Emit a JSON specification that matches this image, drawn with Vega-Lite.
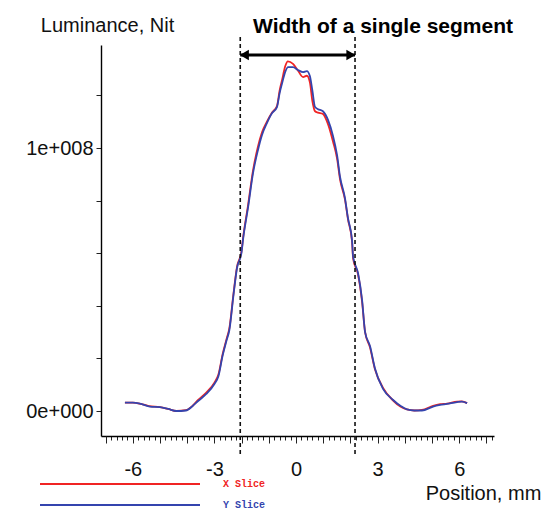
{
  "$schema": "https://vega.github.io/schema/vega-lite/v6.json",
  "width": 393,
  "height": 391,
  "autosize": {"type": "none"},
  "padding": {"left": 101, "top": 45, "right": 53, "bottom": 78},
  "background": "white",
  "config": {
    "view": {"stroke": null},
    "font": "Liberation Sans",
    "axis": {"grid": false, "domainColor": "#000", "domainWidth": 1.4, "tickColor": "#222", "labelColor": "#111", "titleColor": "#111"}
  },
  "datasets": {
    "curves": [
      {"series": "X Slice", "pos": -6.29, "lum": 3.2},
      {"series": "X Slice", "pos": -6.0, "lum": 3.2},
      {"series": "X Slice", "pos": -5.7, "lum": 2.7},
      {"series": "X Slice", "pos": -5.4, "lum": 1.9},
      {"series": "X Slice", "pos": -5.0, "lum": 1.5},
      {"series": "X Slice", "pos": -4.7, "lum": 0.8},
      {"series": "X Slice", "pos": -4.4, "lum": 0.0},
      {"series": "X Slice", "pos": -4.05, "lum": 0.3},
      {"series": "X Slice", "pos": -3.8, "lum": 2.0},
      {"series": "X Slice", "pos": -3.6, "lum": 4.2},
      {"series": "X Slice", "pos": -3.3, "lum": 7.0},
      {"series": "X Slice", "pos": -3.0, "lum": 10.8},
      {"series": "X Slice", "pos": -2.85, "lum": 14.0},
      {"series": "X Slice", "pos": -2.7, "lum": 21.5},
      {"series": "X Slice", "pos": -2.55, "lum": 27.5},
      {"series": "X Slice", "pos": -2.45, "lum": 31.5},
      {"series": "X Slice", "pos": -2.3, "lum": 44.5},
      {"series": "X Slice", "pos": -2.17, "lum": 54.8},
      {"series": "X Slice", "pos": -2.0, "lum": 61.0},
      {"series": "X Slice", "pos": -1.95, "lum": 65.5},
      {"series": "X Slice", "pos": -1.76, "lum": 78.5},
      {"series": "X Slice", "pos": -1.58, "lum": 91.5},
      {"series": "X Slice", "pos": -1.4, "lum": 100.5},
      {"series": "X Slice", "pos": -1.25, "lum": 106.0},
      {"series": "X Slice", "pos": -1.07, "lum": 110.0},
      {"series": "X Slice", "pos": -0.88, "lum": 113.5},
      {"series": "X Slice", "pos": -0.7, "lum": 116.0},
      {"series": "X Slice", "pos": -0.6, "lum": 122.0},
      {"series": "X Slice", "pos": -0.51, "lum": 126.0},
      {"series": "X Slice", "pos": -0.4, "lum": 131.0},
      {"series": "X Slice", "pos": -0.3, "lum": 133.0},
      {"series": "X Slice", "pos": -0.11, "lum": 132.0},
      {"series": "X Slice", "pos": 0.07, "lum": 129.5},
      {"series": "X Slice", "pos": 0.26, "lum": 127.0},
      {"series": "X Slice", "pos": 0.4, "lum": 127.5},
      {"series": "X Slice", "pos": 0.51, "lum": 125.0},
      {"series": "X Slice", "pos": 0.6, "lum": 118.0},
      {"series": "X Slice", "pos": 0.7, "lum": 114.0},
      {"series": "X Slice", "pos": 0.81, "lum": 113.5},
      {"series": "X Slice", "pos": 0.99, "lum": 113.0},
      {"series": "X Slice", "pos": 1.18, "lum": 109.0},
      {"series": "X Slice", "pos": 1.36, "lum": 102.5},
      {"series": "X Slice", "pos": 1.51, "lum": 96.0},
      {"series": "X Slice", "pos": 1.62, "lum": 88.0},
      {"series": "X Slice", "pos": 1.8, "lum": 80.5},
      {"series": "X Slice", "pos": 1.91, "lum": 73.0},
      {"series": "X Slice", "pos": 2.06, "lum": 64.5},
      {"series": "X Slice", "pos": 2.1, "lum": 58.0},
      {"series": "X Slice", "pos": 2.28, "lum": 52.0},
      {"series": "X Slice", "pos": 2.43, "lum": 41.5},
      {"series": "X Slice", "pos": 2.54, "lum": 30.0},
      {"series": "X Slice", "pos": 2.72, "lum": 24.2},
      {"series": "X Slice", "pos": 2.9, "lum": 16.0},
      {"series": "X Slice", "pos": 3.2, "lum": 8.8},
      {"series": "X Slice", "pos": 3.57, "lum": 4.0},
      {"series": "X Slice", "pos": 3.85, "lum": 1.6},
      {"series": "X Slice", "pos": 4.08, "lum": 0.6},
      {"series": "X Slice", "pos": 4.35, "lum": 0.2},
      {"series": "X Slice", "pos": 4.63, "lum": 0.4},
      {"series": "X Slice", "pos": 5.04, "lum": 2.0},
      {"series": "X Slice", "pos": 5.3, "lum": 2.6},
      {"series": "X Slice", "pos": 5.55, "lum": 2.8},
      {"series": "X Slice", "pos": 5.92, "lum": 3.6},
      {"series": "X Slice", "pos": 6.1, "lum": 3.7},
      {"series": "X Slice", "pos": 6.29, "lum": 3.0},
      {"series": "Y Slice", "pos": -6.29, "lum": 3.2},
      {"series": "Y Slice", "pos": -6.0, "lum": 3.2},
      {"series": "Y Slice", "pos": -5.7, "lum": 2.7},
      {"series": "Y Slice", "pos": -5.37, "lum": 1.7},
      {"series": "Y Slice", "pos": -5.0, "lum": 1.5},
      {"series": "Y Slice", "pos": -4.7, "lum": 0.8},
      {"series": "Y Slice", "pos": -4.4, "lum": 0.0},
      {"series": "Y Slice", "pos": -4.05, "lum": 0.2},
      {"series": "Y Slice", "pos": -3.8, "lum": 1.9},
      {"series": "Y Slice", "pos": -3.6, "lum": 3.8},
      {"series": "Y Slice", "pos": -3.3, "lum": 6.5},
      {"series": "Y Slice", "pos": -3.0, "lum": 10.3},
      {"series": "Y Slice", "pos": -2.85, "lum": 13.3},
      {"series": "Y Slice", "pos": -2.7, "lum": 21.0},
      {"series": "Y Slice", "pos": -2.55, "lum": 27.0},
      {"series": "Y Slice", "pos": -2.45, "lum": 30.8},
      {"series": "Y Slice", "pos": -2.3, "lum": 44.0},
      {"series": "Y Slice", "pos": -2.17, "lum": 54.4},
      {"series": "Y Slice", "pos": -2.0, "lum": 60.5},
      {"series": "Y Slice", "pos": -1.95, "lum": 65.0},
      {"series": "Y Slice", "pos": -1.76, "lum": 77.6},
      {"series": "Y Slice", "pos": -1.58, "lum": 90.5},
      {"series": "Y Slice", "pos": -1.4, "lum": 99.2},
      {"series": "Y Slice", "pos": -1.25, "lum": 105.0},
      {"series": "Y Slice", "pos": -1.07, "lum": 109.5},
      {"series": "Y Slice", "pos": -0.88, "lum": 113.3},
      {"series": "Y Slice", "pos": -0.7, "lum": 115.6},
      {"series": "Y Slice", "pos": -0.6, "lum": 121.0},
      {"series": "Y Slice", "pos": -0.51, "lum": 124.7},
      {"series": "Y Slice", "pos": -0.4, "lum": 128.9},
      {"series": "Y Slice", "pos": -0.29, "lum": 130.8},
      {"series": "Y Slice", "pos": -0.11, "lum": 130.8},
      {"series": "Y Slice", "pos": 0.07, "lum": 129.7},
      {"series": "Y Slice", "pos": 0.26, "lum": 128.9},
      {"series": "Y Slice", "pos": 0.4, "lum": 129.3},
      {"series": "Y Slice", "pos": 0.51, "lum": 127.4},
      {"series": "Y Slice", "pos": 0.6, "lum": 122.0},
      {"series": "Y Slice", "pos": 0.7, "lum": 115.6},
      {"series": "Y Slice", "pos": 0.81, "lum": 114.8},
      {"series": "Y Slice", "pos": 0.99, "lum": 114.0},
      {"series": "Y Slice", "pos": 1.18, "lum": 110.6},
      {"series": "Y Slice", "pos": 1.36, "lum": 104.6},
      {"series": "Y Slice", "pos": 1.51, "lum": 97.3},
      {"series": "Y Slice", "pos": 1.62, "lum": 89.0},
      {"series": "Y Slice", "pos": 1.8, "lum": 81.0},
      {"series": "Y Slice", "pos": 1.91, "lum": 73.4},
      {"series": "Y Slice", "pos": 2.06, "lum": 65.0},
      {"series": "Y Slice", "pos": 2.1, "lum": 58.6},
      {"series": "Y Slice", "pos": 2.28, "lum": 52.5},
      {"series": "Y Slice", "pos": 2.43, "lum": 42.2},
      {"series": "Y Slice", "pos": 2.54, "lum": 30.0},
      {"series": "Y Slice", "pos": 2.72, "lum": 24.7},
      {"series": "Y Slice", "pos": 2.9, "lum": 16.3},
      {"series": "Y Slice", "pos": 3.2, "lum": 8.4},
      {"series": "Y Slice", "pos": 3.57, "lum": 4.2},
      {"series": "Y Slice", "pos": 3.85, "lum": 1.9},
      {"series": "Y Slice", "pos": 4.08, "lum": 0.6},
      {"series": "Y Slice", "pos": 4.35, "lum": 0.2},
      {"series": "Y Slice", "pos": 4.63, "lum": 0.2},
      {"series": "Y Slice", "pos": 5.04, "lum": 1.7},
      {"series": "Y Slice", "pos": 5.3, "lum": 2.3},
      {"series": "Y Slice", "pos": 5.55, "lum": 2.7},
      {"series": "Y Slice", "pos": 5.92, "lum": 3.4},
      {"series": "Y Slice", "pos": 6.1, "lum": 3.6},
      {"series": "Y Slice", "pos": 6.29, "lum": 3.0}
    ],
    "bounds": [
      {"pos": -2.05, "top": 142.2, "bottom": -16.7},
      {"pos": 2.17, "top": 142.2, "bottom": -16.7}
    ],
    "arrow": [
      {"start": -2.05, "end": 2.17, "lum": 135.4}
    ],
    "heads": [
      {"pos": -1.9, "lum": 135.4, "dir": "triangle-left"},
      {"pos": 2.02, "lum": 135.4, "dir": "triangle-right"}
    ],
    "label": [
      {"pos": 3.2, "lum": 146.0, "text": "Width of a single segment"}
    ]
  },
  "resolve": {"axis": {"x": "independent"}},
  "layer": [
    {
      "data": {"name": "curves"},
      "mark": {"type": "line", "strokeWidth": 1.8, "interpolate": "monotone"},
      "encoding": {
        "x": {
          "field": "pos", "type": "quantitative",
          "scale": {"domain": [-7.17, 7.28], "nice": false, "zero": false},
          "axis": {
            "orient": "bottom",
            "values": [-7,-6.8,-6.6,-6.4,-6.2,-6,-5.8,-5.6,-5.4,-5.2,-5,-4.8,-4.6,-4.4,-4.2,-4,-3.8,-3.6,-3.4,-3.2,-3,-2.8,-2.6,-2.4,-2.2,-2,-1.8,-1.6,-1.4,-1.2,-1,-0.8,-0.6,-0.4,-0.2,0,0.2,0.4,0.6,0.8,1,1.2,1.4,1.6,1.8,2,2.2,2.4,2.6,2.8,3,3.2,3.4,3.6,3.8,4,4.2,4.4,4.6,4.8,5,5.2,5.4,5.6,5.8,6,6.2,6.4,6.6,6.8,7,7.2],
            "labels": false, "tickSize": 4, "domain": true, "domainColor": "#000", "domainWidth": 1.4, "title": null
          }
        },
        "y": {
          "field": "lum", "type": "quantitative",
          "scale": {"domain": [-9.5, 139.2], "nice": false, "zero": false},
          "axis": {
            "values": [0,10,20,30,40,50,60,70,80,90,100,110,120,130],
            "labelExpr": "datum.value == 0 ? '0e+000' : (datum.value == 100 ? '1e+008' : '')",
            "domain": true, "domainColor": "#000", "domainWidth": 1.4,
            "tickSize": 5, "labelPadding": 3, "labelFontSize": 20, "labelFont": "Liberation Sans",
            "title": "Luminance, Nit", "titleAngle": 0, "titleX": 6, "titleY": -20,
            "titleAlign": "center", "titleBaseline": "middle", "titleFontSize": 20, "titleFontWeight": "normal"
          }
        },
        "color": {
          "field": "series", "type": "nominal",
          "scale": {"domain": ["X Slice", "Y Slice"], "range": ["#f02424", "#3444ae"]},
          "legend": {
            "orient": "none", "legendX": 13, "legendY": 433, "direction": "vertical",
            "title": null, "symbolType": "M-16,0H16", "symbolSize": 100, "symbolStrokeWidth": 2,
            "labelFont": "Liberation Mono", "labelFontSize": 10, "labelFontWeight": "bold",
            "labelOffset": 97, "rowPadding": 10, "padding": 0,
            "encode": {"labels": {"update": {"fill": {"signal": "datum.value === 'X Slice' ? '#f02424' : '#3444ae'"}}}}
          }
        }
      }
    },
    {
      "data": {"name": "bounds"},
      "mark": {"type": "rule", "strokeDash": [4, 3], "strokeWidth": 1.6, "color": "#111"},
      "encoding": {
        "x": {
          "field": "pos", "type": "quantitative",
          "axis": {
            "orient": "bottom",
            "values": [-7,-6,-5,-4,-3,-2,-1,0,1,2,3,4,5,6,7],
            "labelExpr": "datum.value % 3 == 0 ? ('' + datum.value) : ''",
            "tickSize": 7, "domain": false, "labelPadding": 16, "labelFontSize": 20,
            "labelFont": "Liberation Sans",
            "title": "Position, mm", "titleX": 382, "titleY": 57, "titleAlign": "center",
            "titleBaseline": "middle", "titleFontSize": 20, "titleFontWeight": "normal"
          }
        },
        "y": {"field": "top", "type": "quantitative"},
        "y2": {"field": "bottom"}
      }
    },
    {
      "data": {"name": "arrow"},
      "mark": {"type": "rule", "strokeWidth": 3, "color": "#000"},
      "encoding": {
        "x": {"field": "start", "type": "quantitative", "axis": null},
        "x2": {"field": "end"},
        "y": {"field": "lum", "type": "quantitative"}
      }
    },
    {
      "data": {"name": "heads"},
      "mark": {"type": "point", "filled": true, "color": "#000", "size": 110, "opacity": 1},
      "encoding": {
        "x": {"field": "pos", "type": "quantitative", "axis": null},
        "y": {"field": "lum", "type": "quantitative"},
        "shape": {"field": "dir", "type": "nominal", "scale": null, "legend": null}
      }
    },
    {
      "data": {"name": "label"},
      "mark": {"type": "text", "fontSize": 21, "fontWeight": "bold", "font": "Liberation Sans", "color": "#000", "align": "center", "baseline": "middle"},
      "encoding": {
        "x": {"field": "pos", "type": "quantitative", "axis": null},
        "y": {"field": "lum", "type": "quantitative"},
        "text": {"field": "text"}
      }
    }
  ]
}
